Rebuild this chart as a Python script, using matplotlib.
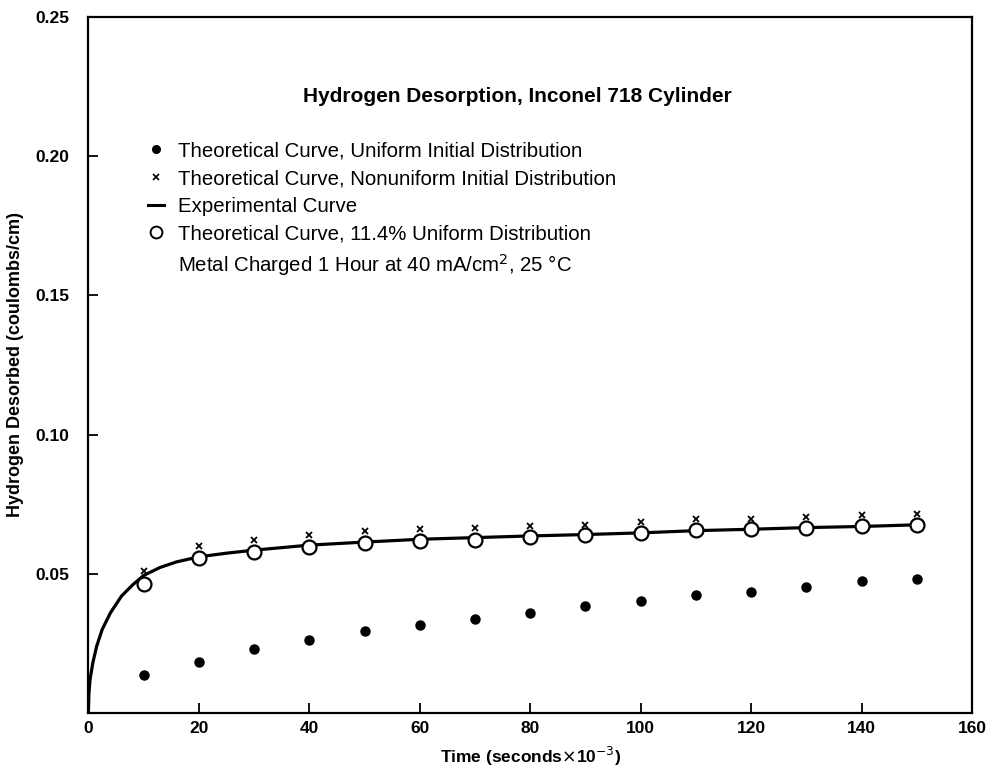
import numpy as np
import matplotlib.pyplot as plt
from matplotlib.lines import Line2D

plt.rcParams['font.family'] = ['Liberation Sans', 'DejaVu Sans']

# time, seconds x 10^-3
t_pts = [10, 20, 30, 40, 50, 60, 70, 80, 90, 100, 110, 120, 130, 140, 150]

# theoretical, uniform initial distribution (filled dots)
uniform = [0.0136, 0.0184, 0.0230, 0.0262, 0.0296, 0.0315, 0.0336, 0.0359,
           0.0383, 0.0404, 0.0423, 0.0436, 0.0454, 0.0473, 0.0480]
# theoretical, nonuniform initial distribution (x)
nonuniform = [0.0511, 0.0600, 0.0622, 0.0640, 0.0653, 0.0660, 0.0666, 0.0672,
              0.0677, 0.0687, 0.0696, 0.0698, 0.0703, 0.0711, 0.0715]
# theoretical, 11.4% uniform distribution (open circles)
uniform_114 = [0.0463, 0.0555, 0.0578, 0.0597, 0.0610, 0.0618, 0.0623, 0.0631,
               0.0640, 0.0648, 0.0656, 0.0661, 0.0666, 0.0671, 0.0675]

# experimental curve
exp_t = [0, 0.1, 0.3, 0.8, 1.5, 2.5, 4, 6, 8, 10, 13, 16, 20, 25, 30, 40, 50,
         60, 70, 80, 90, 100, 110, 120, 130, 140, 150]
exp_y = [0.0, 0.007, 0.012, 0.018, 0.024, 0.030, 0.036, 0.042, 0.046, 0.0494,
         0.0523, 0.0543, 0.0561, 0.0574, 0.0585, 0.0603, 0.0614, 0.0624, 0.0630,
         0.0636, 0.0641, 0.0647, 0.0655, 0.0660, 0.0666, 0.0670, 0.0676]

fig = plt.figure(figsize=(9.93, 7.70), dpi=100)
ax = fig.add_axes([0.089, 0.074, 0.890, 0.904])

ax.plot(exp_t, exp_y, color='black', lw=2.3, zorder=2)
ax.plot(t_pts, uniform, 'o', color='black', ms=6.5, ls='none', zorder=3)
ax.plot(t_pts, nonuniform, 'x', color='black', ms=4.5, mew=1.3, ls='none', zorder=3)
ax.plot(t_pts, uniform_114, 'o', mfc='white', mec='black', mew=1.6, ms=10,
        ls='none', zorder=4)

ax.set_xlim(0, 160)
ax.set_ylim(0, 0.25)
ax.set_xticks(np.arange(0, 161, 20))
ax.set_yticks([0.05, 0.10, 0.15, 0.20, 0.25])
ax.set_yticklabels(['0.05', '0.10', '0.15', '0.20', '0.25'])
ax.tick_params(direction='in', length=7, width=1.3, labelsize=12.5, pad=6)
ax.tick_params(axis='y', pad=14)
for lab in ax.get_xticklabels() + ax.get_yticklabels():
    lab.set_fontweight('bold')
for s in ax.spines.values():
    s.set_linewidth(1.6)

ax.set_xlabel('Time (seconds$\\times$10$^{-3}$)', fontsize=12.5, fontweight='bold', labelpad=6)
ax.set_ylabel('Hydrogen Desorbed (coulombs/cm)', fontsize=13, fontweight='bold', labelpad=8)

ax.text(0.485, 0.885, 'Hydrogen Desorption, Inconel 718 Cylinder', transform=ax.transAxes,
        ha='center', va='center', fontsize=15, fontweight='bold')

handles = [
    Line2D([], [], marker='o', color='black', ms=5.5, ls='none'),
    Line2D([], [], marker='x', color='black', ms=4.5, mew=1.2, ls='none'),
    Line2D([], [], color='black', lw=2.2),
    Line2D([], [], marker='o', mfc='white', mec='black', mew=1.4, ms=8.5, ls='none'),
    Line2D([], [], ls='none'),
]
labels = [
    'Theoretical Curve, Uniform Initial Distribution',
    'Theoretical Curve, Nonuniform Initial Distribution',
    'Experimental Curve',
    'Theoretical Curve, 11.4% Uniform Distribution',
    'Metal Charged 1 Hour at 40 mA/cm$^2$, 25 \u00b0C',
]
ax.legend(handles, labels, loc='upper left', bbox_to_anchor=(0.068, 0.821),
          frameon=False, fontsize=14.7, handlelength=0.75, handletextpad=0.7,
          labelspacing=0.42, borderaxespad=0, borderpad=0)

fig.savefig('out.png', dpi=100)
